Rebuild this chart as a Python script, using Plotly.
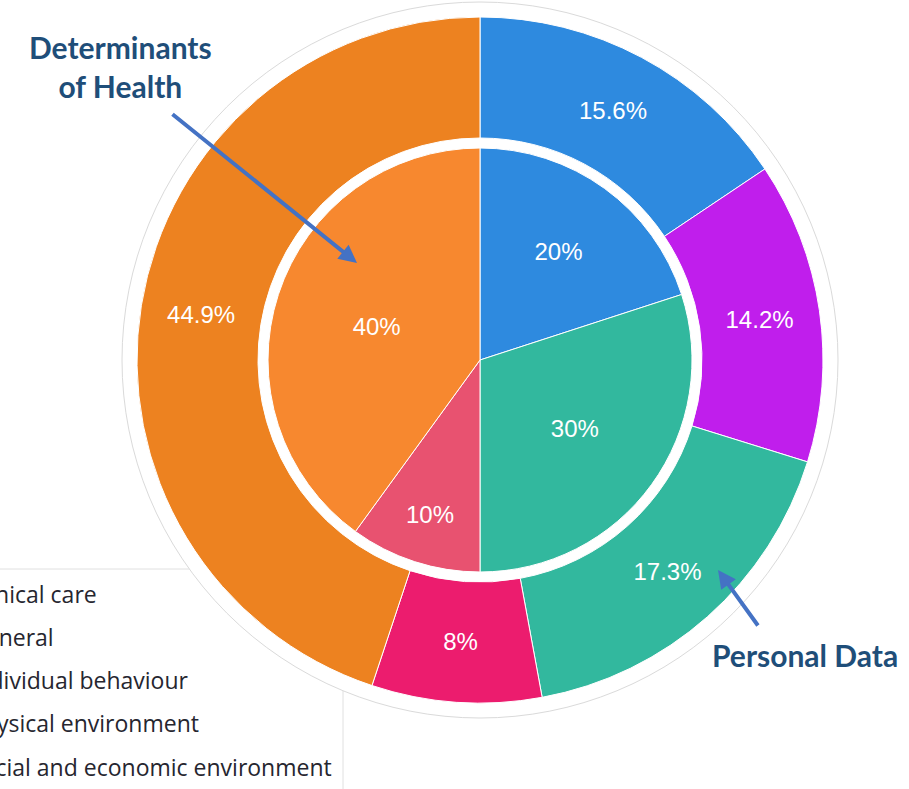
import plotly.graph_objects as go

W, H = 909, 789

outer_labels = ["Clinical care", "General", "Individual behaviour",
                "Physical environment", "Social and economic environment"]
outer_values = [15.6, 14.2, 17.3, 8, 44.9]
outer_colors = ["#2E8ADF", "#C01EEC", "#32B89E", "#EC1C6E", "#ED8220"]

inner_labels = ["Clinical care", "Individual behaviour",
                "Physical environment", "Social and economic environment"]
inner_values = [20, 30, 10, 40]
inner_colors = ["#2E8ADF", "#32B89E", "#E85270", "#F7882F"]

legend_labels = outer_labels

# geometry (pixels)
CX, CY = 480, 360
R_OUT, R_HOLE, R_IN, R_BG = 343, 222, 212, 358


def px_x(x):
    return x / W


def px_y(y):
    return 1 - y / H


fig = go.Figure()
fig.add_trace(go.Pie(
    labels=outer_labels, values=outer_values, sort=False,
    direction="clockwise", rotation=0, hole=R_HOLE / R_OUT,
    marker=dict(colors=outer_colors, line=dict(color="white", width=1)),
    texttemplate="%{value}%", textposition="inside",
    insidetextorientation="horizontal",
    textfont=dict(family="Liberation Sans, Arial", size=24, color="white"),
    domain=dict(x=[px_x(CX - R_OUT), px_x(CX + R_OUT)],
                y=[px_y(CY + R_OUT), px_y(CY - R_OUT)]),
    showlegend=False,
))
fig.add_trace(go.Pie(
    labels=inner_labels, values=inner_values, sort=False,
    direction="clockwise", rotation=0,
    marker=dict(colors=inner_colors, line=dict(color="white", width=1)),
    texttemplate="%{value}%", textposition="inside",
    insidetextorientation="horizontal",
    textfont=dict(family="Liberation Sans, Arial", size=24, color="white"),
    domain=dict(x=[px_x(CX - R_IN), px_x(CX + R_IN)],
                y=[px_y(CY + R_IN), px_y(CY - R_IN)]),
    showlegend=False,
))

shapes = [
    # legend box (partly hidden)
    dict(type="rect", xref="paper", yref="paper",
         x0=px_x(-60), x1=px_x(343), y0=px_y(850), y1=px_y(569),
         line=dict(color="#e0e0e0", width=1), fillcolor="rgba(0,0,0,0)",
         layer="below"),
    # white background disc
    dict(type="circle", xref="paper", yref="paper",
         x0=px_x(CX - R_BG), x1=px_x(CX + R_BG),
         y0=px_y(CY + R_BG), y1=px_y(CY - R_BG),
         line=dict(color="#dadada", width=1), fillcolor="white",
         layer="below"),
]

annotations = []
row_y = [594, 637, 680, 723, 767]
for lab, yy in zip(legend_labels, row_y):
    annotations.append(dict(
        text=lab, xref="paper", yref="paper", x=px_x(-33), y=px_y(yy),
        xanchor="left", yanchor="middle", showarrow=False,
        font=dict(family="Open Sans", size=23, color="#26262f")))

annotations += [
    dict(text="<b>Determinants<br>of Health</b>", xref="paper", yref="paper",
         x=px_x(121), y=px_y(67), xanchor="center", yanchor="middle",
         showarrow=False, align="center",
         font=dict(family="Lato", size=30, color="#1F4E79")),
    dict(text="<b>Personal Data</b>", xref="paper", yref="paper",
         x=px_x(805), y=px_y(655), xanchor="center", yanchor="middle",
         showarrow=False,
         font=dict(family="Lato", size=30, color="#1F4E79")),
    dict(text="", xref="paper", yref="paper", x=px_x(357), y=px_y(263),
         ax=171 - 357, ay=113 - 263, showarrow=True, arrowhead=2,
         arrowsize=0.9, arrowwidth=4, arrowcolor="#4472C4"),
    dict(text="", xref="paper", yref="paper", x=px_x(718), y=px_y(570),
         ax=759 - 718, ay=627 - 570, showarrow=True, arrowhead=2,
         arrowsize=0.9, arrowwidth=4, arrowcolor="#4472C4"),
]

fig.update_layout(
    width=W, height=H, autosize=False,
    margin=dict(l=0, r=0, t=0, b=0),
    paper_bgcolor="white", plot_bgcolor="white",
    shapes=shapes, annotations=annotations,
)

fig.write_html("out.html")
